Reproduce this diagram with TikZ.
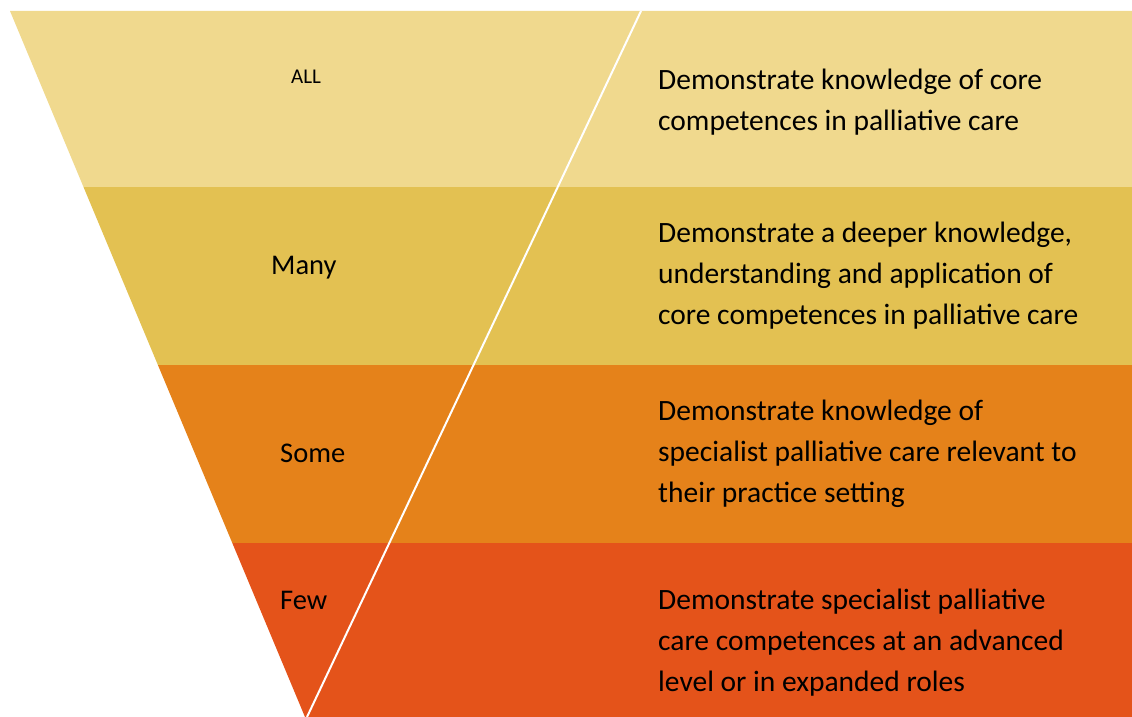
\documentclass[tikz,border=0pt]{standalone}
\usepackage{fontspec}
\setmainfont{Carlito}
\definecolor{bandA}{HTML}{F0D98E}
\definecolor{bandB}{HTML}{E3C152}
\definecolor{bandC}{HTML}{E5821A}
\definecolor{bandD}{HTML}{E4531A}
\newcommand{\lines}[1]{\vtop{\fontsize{29.5}{41}\selectfont #1}}
\tikzset{
  band/.style={draw=none},
  label/.style={anchor=base west, inner sep=0pt, font=\fontsize{28.5}{34}\selectfont, text=black},
  desc/.style={anchor=base west, inner sep=0pt, text=black},
  divider/.style={draw=white, line width=2pt}
}
\begin{document}
\begin{tikzpicture}[x=1pt,y=-1pt]
\useasboundingbox (0,0) rectangle (1132,717);
% left edge: x = 10 + 0.4178*(y-11)
\fill[bandA] (10,11) -- (1132,11) -- (1132,187) -- (83.5,187) -- cycle;
\fill[bandB] (83.5,187) -- (1132,187) -- (1132,365) -- (157.9,365) -- cycle;
\fill[bandC] (157.9,365) -- (1132,365) -- (1132,543) -- (232.3,543) -- cycle;
\fill[bandD] (232.3,543) -- (1132,543) -- (1132,717) -- (305,717) -- cycle;
\coordinate (dtop) at (641,11);
\coordinate (dbot) at (307,717);
\draw[divider] (dtop) -- (dbot);
% left labels
\node[anchor=base, inner sep=0pt, font=\fontsize{21}{25}\selectfont] (all) at (306,84) {ALL};
\node[label] (many) at (271,274) {Many};
\node[label] (some) at (280,462) {Some};
\node[label] (few) at (280,609) {Few};
% descriptions
\node[desc] (d1) at (658,89) {\lines{\hbox{Demonstrate knowledge of core}\hbox{competences in palliative care}}};
\node[desc] (d2) at (658,242) {\lines{\hbox{Demonstrate a deeper knowledge,}\hbox{understanding and application of}\hbox{core competences in palliative care}}};
\node[desc] (d3) at (658,420) {\lines{\hbox{Demonstrate knowledge of}\hbox{specialist palliative care relevant to}\hbox{their practice setting}}};
\node[desc] (d4) at (658,609) {\lines{\hbox{Demonstrate specialist palliative}\hbox{care competences at an advanced}\hbox{level or in expanded roles}}};
\end{tikzpicture}
\end{document}
